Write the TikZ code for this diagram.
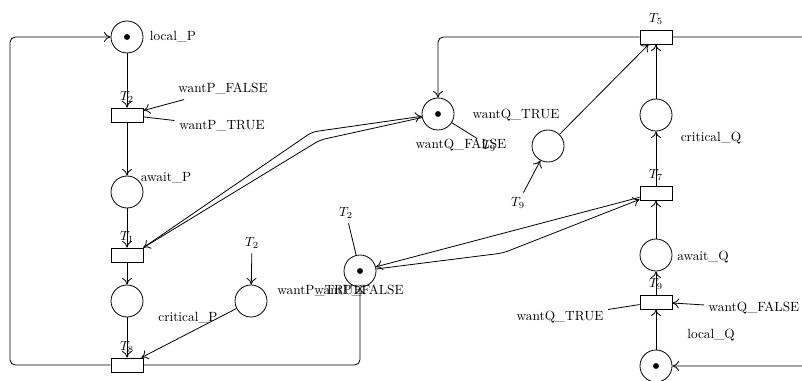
\documentclass[tikz,border=0pt]{standalone}
\usetikzlibrary{arrows.meta}

\begin{document}
\begin{tikzpicture}[
    x=0.75pt, y=-0.75pt,
    line width=0.6pt,
    place/.style={circle, draw, minimum size=24pt, inner sep=0pt},
    marked/.style={place, path picture={\fill (path picture bounding box.center) circle (2.2pt);}},
    trans/.style={rectangle, draw, minimum width=24pt, minimum height=10.5pt, inner sep=0pt, label distance=3pt},
    arrow/.style={->, >={To[length=5pt, width=7.5pt]}}
]
    \useasboundingbox (0,0) rectangle (802,381);
    \clip (0,0) rectangle (802,381);

    % P side
    \node [marked] (localP) at (127,37) {};
    \node [trans, label=above:$T_2$] (t2) at (127,115) {};
    \node [place] (awaitP) at (127,192) {};
    \node [trans, label=above:$T_1$] (t1) at (127,255) {};
    \node [place] (critP) at (127,301) {};
    \node [trans, label=above:$T_8$] (t8) at (127,365) {};
    \node [place] (auxP) at (251,301) {};
    \node [marked] (wantP) at (360,271) {};

    \node (lblLocalP) at (173,37) {local\_P};
    \node (lblWPF) at (223,89) {wantP\_FALSE};
    \node (lblWPT) at (222,126) {wantP\_TRUE};
    \node (lblAwaitP) at (166,178) {await\_P};
    \node (lblCritP) at (188,318) {critical\_P};
    \node (lblT2c) at (252,243) {$T_2$};
    \node (lblT2b) at (346,213) {$T_2$};
    \node (lblWPT2) at (320,291) {wantP\_TRUE};
    \node (lblWPF2) at (359,291) {wantP\_FALSE};

    % Q side
    \node [trans, label=above:$T_5$] (t5) at (656,37) {};
    \node [place] (critQ) at (656,115) {};
    \node [trans, label=above:$T_7$] (t7) at (656,193) {};
    \node [place] (awaitQ) at (656,255) {};
    \node [trans, label=above:$T_9$] (t9) at (656,302) {};
    \node [marked] (localQ) at (656,366) {};
    \node [marked] (wantQ) at (438,114) {};
    \node [place] (auxQ) at (548,146) {};

    \node (lblWQT) at (516,115) {wantQ\_TRUE};
    \node (lblWQF) at (461,145) {wantQ\_FALSE};
    \node (lblT9a) at (489,146) {$T_9$};
    \node (lblT9b) at (518,203) {$T_9$};
    \node (lblCritQ) at (711,138) {critical\_Q};
    \node (lblAwaitQ) at (703,257) {await\_Q};
    \node (lblWQF2) at (754,308) {wantQ\_FALSE};
    \node (lblWQT2) at (560,317) {wantQ\_TRUE};
    \node (lblLocalQ) at (711,335) {local\_Q};

    % P arcs
    \draw [arrow] (localP) -- (t2);
    \draw [arrow] (t2) -- (awaitP);
    \draw [arrow] (awaitP) -- (t1);
    \draw [arrow] (t1) -- (critP);
    \draw [arrow] (critP) -- (t8);
    \draw [arrow] (auxP) -- (t8);
    \draw [arrow] (lblT2c) -- (auxP);
    \draw [arrow] (lblWPF) -- (t2);
    \draw (t2) -- (lblWPT);
    \draw (lblT2b) -- (wantP);
    \draw [arrow, rounded corners=4pt] (t8) -- (10,365) -- (10,37) -- (localP);
    \draw [arrow, rounded corners=4pt] (t8) -- (360,365) -- (wantP);
    \draw [arrow, rounded corners=4pt] (t1.north east) -- (312,132) -- (wantQ);
    \draw [arrow, rounded corners=4pt] (wantQ) -- (320,140) -- (t1.north east);

    % Q arcs
    \draw [arrow] (localQ) -- (t9);
    \draw [arrow] (t9) -- (awaitQ);
    \draw [arrow] (awaitQ) -- (t7);
    \draw [arrow] (t7) -- (critQ);
    \draw [arrow] (critQ) -- (t5);
    \draw [arrow] (auxQ) -- (t5);
    \draw [arrow] (lblT9b) -- (auxQ);
    \draw [arrow] (lblWQF2) -- (t9);
    \draw (t9) -- (lblWQT2);
    \draw (wantQ) -- (lblT9a);
    \draw [arrow, rounded corners=4pt] (t5) -- (438,37) -- (wantQ);
    \draw [arrow, rounded corners=4pt] (t5) -- (830,37) -- (830,366) -- (localQ);
    \draw [arrow] (t7) -- (wantP);
    \draw [arrow, rounded corners=4pt] (wantP) -- (503,253) -- (t7);
\end{tikzpicture}
\end{document}
